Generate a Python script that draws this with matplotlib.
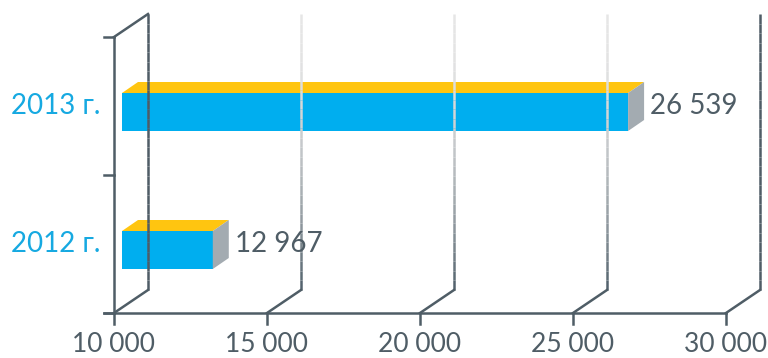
import matplotlib.pyplot as plt
from matplotlib.patches import Polygon
import numpy as np

# data
categories = ['2012 г.', '2013 г.']
values = [12967, 26539]
value_labels = ['12 967', '26 539']
xticks = [10000, 15000, 20000, 25000, 30000]
xtick_labels = ['10 000', '15 000', '20 000', '25 000', '30 000']

blue = '#00aeef'
yellow = '#ffc510'
grey_side = '#a3abb1'
axis_col = '#4f5d66'
label_blue = '#16a9e1'

plt.rcParams['font.family'] = ['Lato', 'DejaVu Sans']

fig = plt.figure(figsize=(7.68, 3.58), dpi=100)
ax = fig.add_axes([0, 0, 1, 1])

# x in data units, y in pixel rows (top = 0)
px_per_unit = 0.0306
x0_px = 114
xmin = xticks[0] - x0_px / px_per_unit
xmax = xmin + 768 / px_per_unit
ax.set_xlim(xmin, xmax)
ax.set_ylim(358, 0)
ax.axis('off')

def dx(px):
    return px / px_per_unit

depth_x, depth_y = 34, -23     # back wall offset
y_bottom, y_top = 313, 37

# back wall gridlines, light at top going darker at bottom
for t in xticks:
    xb = t + dx(depth_x)
    ys = np.linspace(y_top + depth_y, y_bottom + depth_y, 30)
    for k in range(len(ys) - 1):
        f = k / (len(ys) - 2)
        c = np.array([0.90, 0.90, 0.90]) * (1 - f**2) + np.array([0.33, 0.39, 0.43]) * f**2
        if t == xticks[0] or t == xticks[-1]:
            c = np.array([0.31, 0.36, 0.40])
        ax.plot([xb, xb], [ys[k], ys[k + 1]], color=c, lw=1.8, solid_capstyle='butt')
    # floor diagonals
    ax.plot([t, xb], [y_bottom, y_bottom + depth_y], color=axis_col, lw=1.8)

# top-left diagonal and front y axis
ax.plot([xticks[0], xticks[0] + dx(depth_x)], [y_top, y_top + depth_y], color=axis_col, lw=1.8)
ax.plot([xticks[0], xticks[0]], [y_top, y_bottom], color=axis_col, lw=1.8)
ax.plot([xticks[0] - dx(10), xticks[-1]], [y_bottom, y_bottom], color=axis_col, lw=1.8)

# category ticks on y axis
cat_h = (y_bottom - y_top) / len(categories)
for k in range(len(categories) + 1):
    yy = y_top + k * cat_h
    ax.plot([xticks[0] - dx(10), xticks[0]], [yy, yy], color=axis_col, lw=1.8)

# x ticks and labels
for t, lab in zip(xticks, xtick_labels):
    ax.plot([t, t], [y_bottom, y_bottom + 11], color=axis_col, lw=1.8)
    ax.text(t, 344, lab, ha='center', va='center', fontsize=19, color=axis_col)

# bars
bar_h = 38
front_shift = 8
bd_x, bd_y = 16, -11
for i, (cat, v, vl) in enumerate(zip(categories, values, value_labels)):
    yc = y_bottom - (i + 0.5) * cat_h
    yb = yc + 6 + bar_h / 2
    yt = yc + 6 - bar_h / 2
    x1 = xticks[0] + dx(front_shift)
    x2 = v + dx(front_shift)
    front = Polygon([[x1, yt], [x2, yt], [x2, yb], [x1, yb]], closed=True, fc=blue, ec='none')
    top = Polygon([[x1, yt], [x2, yt], [x2 + dx(bd_x), yt + bd_y], [x1 + dx(bd_x), yt + bd_y]],
                  closed=True, fc=yellow, ec='none')
    side = Polygon([[x2, yt], [x2 + dx(bd_x), yt + bd_y], [x2 + dx(bd_x), yb + bd_y], [x2, yb]],
                   closed=True, fc=grey_side, ec='none')
    for p in (front, top, side):
        ax.add_patch(p)
    ax.text(x2 + dx(bd_x + 6), yc, vl, ha='left', va='center', fontsize=20, color=axis_col)
    ax.text(xticks[0] - dx(14), yc, cat, ha='right', va='center', fontsize=20, color=label_blue)

plt.savefig('out.png', dpi=100)
